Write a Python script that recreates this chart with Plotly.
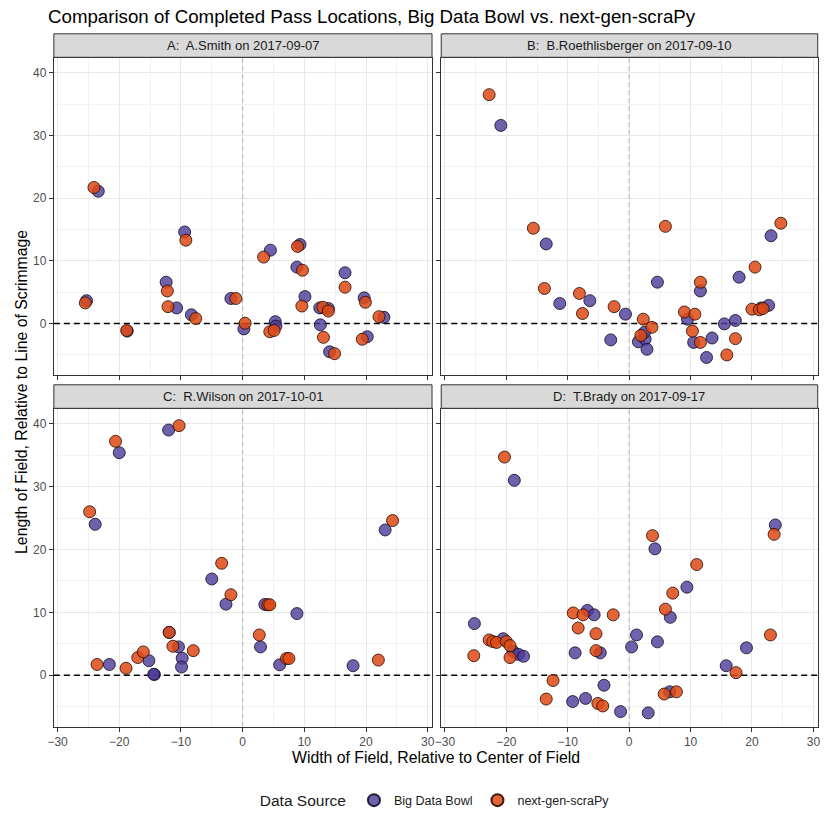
import plotly.graph_objects as go

# Panel labels
panel_titles = [
    "A:  A.Smith on 2017-09-07",
    "B:  B.Roethlisberger on 2017-09-10",
    "C:  R.Wilson on 2017-10-01",
    "D:  T.Brady on 2017-09-17",
]

# A: A.Smith
a_bdb_x = [-23.4, -9.4, -25.3, -18.7, -12.4, -10.7, -8.3, -1.9, 0.2, 4.5, 5.3, 5.4,
           9.3, 8.8, 10.1, 12.5, 13.9, 12.6, 14.1, 16.6, 19.7, 20.2, 22.9]
a_bdb_y = [21.1, 14.6, 3.65, -1.2, 6.6, 2.5, 1.4, 4.0, -0.85, 11.7, 0.3, -0.4,
           12.6, 9.0, 4.3, 2.5, 2.4, -0.2, -4.5, 8.1, 4.1, -2.1, 1.0]
a_ngs_x = [-24.1, -9.2, -25.5, -18.8, -12.2, -12.1, -7.6, -1.1, 0.4, 3.4, 4.4, 5.1,
           8.9, 9.7, 9.6, 13.0, 13.9, 13.1, 14.9, 16.6, 19.9, 19.4, 22.1]
a_ngs_y = [21.7, 13.3, 3.3, -1.1, 5.2, 2.7, 0.8, 4.0, 0.05, 10.6, -1.3, -1.1,
           12.3, 8.5, 2.8, 2.6, 2.0, -2.2, -4.8, 5.8, 3.4, -2.5, 1.1]

# B: B.Roethlisberger
b_bdb_x = [-20.9, -13.5, -11.3, -6.4, -0.6, -3.0, 1.5, 2.6, 2.5, 2.9, 4.6, 9.5,
           10.5, 11.6, 13.5, 12.6, 15.5, 17.3, 17.9, 22.7, 23.1, 21.5]
b_bdb_y = [31.6, 12.7, 3.2, 3.65, 1.5, -2.6, -2.9, -2.5, -1.4, -4.1, 6.6, 0.7,
           -3.0, 5.2, -2.3, -5.4, -0.05, 0.5, 7.4, 2.9, 14.0, 2.5]
b_ngs_x = [-22.8, -15.6, -13.8, -8.1, -7.6, -2.45, 2.3, 3.7, 1.9, 5.9, 9.0, 10.7,
           10.3, 11.6, 11.6, 15.9, 17.3, 20.5, 20.0, 21.2, 21.8, 24.7]
b_ngs_y = [36.5, 15.2, 5.6, 4.8, 1.6, 2.7, 0.7, -0.6, -1.9, 15.5, 1.85, 1.5,
           -1.2, -3.0, 6.6, -5.0, -2.4, 9.0, 2.3, 2.2, 2.4, 16.0]

# C: R.Wilson
c_bdb_x = [-12.0, -20.0, -23.9, -5.0, -2.7, 3.6, 8.8, 2.9, 6.0, 17.9, 23.1, -11.9,
           -10.4, -9.8, -9.9, -21.6, -15.2, -14.3, -14.4]
c_bdb_y = [39.0, 35.4, 24.0, 15.3, 11.3, 11.25, 9.8, 4.5, 1.65, 1.5, 23.1, 6.8,
           4.5, 2.7, 1.3, 1.7, 2.3, 0.1, 0.15]
c_ngs_x = [-10.3, -20.6, -24.8, -3.4, -1.9, 4.1, 4.4, 2.7, 7.1, 7.5, 22.0, 24.3,
           -11.9, -11.3, -8.0, -23.6, -18.9, -17.0, -16.1]
c_ngs_y = [39.7, 37.2, 26.0, 17.8, 12.8, 11.2, 11.2, 6.4, 2.65, 2.65, 2.4, 24.6,
           6.8, 4.6, 3.9, 1.7, 1.1, 2.8, 3.7]

# D: T.Brady
d_bdb_x = [-18.7, 23.8, 4.2, 9.4, 6.7, 1.2, 4.6, 0.4, 19.1, 15.8, 6.6, 3.1, -1.4,
           -4.1, -7.1, -9.2, -6.8, -5.7, -4.7, -8.8, -25.2, -20.5, -18.9, -18.0, -17.2]
d_bdb_y = [31.0, 23.9, 20.1, 14.0, 9.2, 6.4, 5.3, 4.5, 4.35, 1.5, -2.65, -6.0, -5.8,
           -1.6, -3.7, -4.2, 10.3, 9.6, 3.55, 3.55, 8.2, 5.8, 3.8, 3.3, 3.0]
d_ngs_x = [-20.3, 23.6, 3.8, 11.0, 7.1, 5.9, 23.0, 17.4, 5.7, 7.7, -5.1, -4.3, -13.5,
           -12.4, -9.1, -7.5, -2.6, -8.3, -5.4, -5.4, -25.3, -22.8, -22.2, -21.6,
           -20.0, -19.4, -19.4]
d_ngs_y = [34.7, 22.4, 22.2, 17.6, 13.05, 10.5, 6.4, 0.4, -3.0, -2.65, -4.5, -4.9, -3.8,
           -0.85, 9.9, 9.6, 9.6, 7.5, 6.6, 3.9, 3.1, 5.6, 5.35, 5.2, 5.35, 4.7, 2.8]

x_ticks = [-30, -20, -10, 0, 10, 20, 30]
x_tick_labels = ["\u221230", "\u221220", "\u221210", "0", "10", "20", "30"]
y_ticks = [0, 10, 20, 30, 40]

# axis limits shared by all panels
x_range = [-30.6, 30.7]
y_range = [-8.2, 42.3]

panels = [
    (a_bdb_x, a_bdb_y, a_ngs_x, a_ngs_y),
    (b_bdb_x, b_bdb_y, b_ngs_x, b_ngs_y),
    (c_bdb_x, c_bdb_y, c_ngs_x, c_ngs_y),
    (d_bdb_x, d_bdb_y, d_ngs_x, d_ngs_y),
]

purple = "rgba(75,58,150,0.8)"
orange = "rgba(222,74,20,0.85)"
font = "Liberation Sans, Arial, sans-serif"

# the page body has an 8px margin, so the figure is 814 wide and
# everything below is placed in window pixels, then shifted
OFF = 8
FW = 814


def px(p):
    return (p - OFF) / FW


def py(p):
    return 1 - (p - OFF) / FW


# pixel boxes of the panels (left, right, top, bottom)
cols = [(48.3, 430.7), (440.0, 820.7)]
rows = [(58.3, 375.0), (409.3, 726.7)]

fig = go.Figure()

for i, (bx, by, nx, ny) in enumerate(panels):
    suffix = "" if i == 0 else str(i + 1)
    axes = dict(xaxis="x" + suffix, yaxis="y" + suffix)
    # reference lines: centre of field and line of scrimmage (under the points)
    fig.add_trace(go.Scatter(
        x=[0, 0], y=y_range, mode="lines", showlegend=False, hoverinfo="skip",
        line=dict(color="#b3b3b3", width=1, dash="5px,3px"), **axes,
    ))
    fig.add_trace(go.Scatter(
        x=x_range, y=[0, 0], mode="lines", showlegend=False, hoverinfo="skip",
        line=dict(color="black", width=1.5, dash="6px,4px"), **axes,
    ))
    fig.add_trace(go.Scatter(
        x=bx, y=by, mode="markers", name="Big Data Bowl", legendgroup="bdb",
        showlegend=(i == 0), **axes,
        marker=dict(size=12, color=purple, line=dict(color="rgba(20,10,40,0.9)", width=0.9)),
    ))
    fig.add_trace(go.Scatter(
        x=nx, y=ny, mode="markers", name="next-gen-scraPy", legendgroup="ngs",
        showlegend=(i == 0), **axes,
        marker=dict(size=12, color=orange, line=dict(color="rgba(40,10,0,0.9)", width=0.9)),
    ))

layout = dict(
    width=FW, height=FW,
    margin=dict(l=0, r=0, t=0, b=0),
    plot_bgcolor="white", paper_bgcolor="white",
    font=dict(family=font, color="#1a1a1a"),
    title=dict(text="Comparison of Completed Pass Locations, Big Data Bowl vs. next-gen-scraPy",
               x=px(48), xanchor="left", y=py(9.5), yanchor="top",
               font=dict(size=18.7, color="black")),
    showlegend=True,
    legend=dict(orientation="h", x=px(435), xanchor="center", y=py(801), yanchor="middle",
                title=dict(text="Data Source", side="left", font=dict(size=15.5)),
                font=dict(size=12.5), itemsizing="constant"),
)

shapes = []
annotations = []
for i in range(4):
    r, c = divmod(i, 2)
    suffix = "" if i == 0 else str(i + 1)
    x0, x1 = cols[c]
    y0, y1 = rows[r]
    layout["xaxis" + suffix] = dict(
        domain=[px(x0), px(x1)], range=x_range, anchor="y" + suffix,
        tickvals=x_ticks, ticktext=x_tick_labels, showticklabels=(r == 1),
        ticks="outside", ticklen=4, tickcolor="#333333", tickwidth=1,
        tickfont=dict(size=12, color="#4d4d4d"),
        showgrid=True, gridcolor="#e8e8e8", gridwidth=1.1, zeroline=False,
        minor=dict(dtick=5, tick0=0, showgrid=True, gridcolor="#f2f2f2", gridwidth=0.6),
        showline=True, mirror=True, linecolor="#333333", linewidth=1,
    )
    layout["yaxis" + suffix] = dict(
        domain=[py(y1), py(y0)], range=y_range, anchor="x" + suffix,
        tickvals=y_ticks, showticklabels=(c == 0),
        ticks="outside", ticklen=4, tickcolor="#333333", tickwidth=1,
        tickfont=dict(size=12, color="#4d4d4d"),
        showgrid=True, gridcolor="#e8e8e8", gridwidth=1.1, zeroline=False,
        minor=dict(dtick=5, tick0=0, showgrid=True, gridcolor="#f2f2f2", gridwidth=0.6),
        showline=True, mirror=True, linecolor="#333333", linewidth=1,
    )

    # strip
    st = y0 - 24.5
    shapes.append(dict(type="rect", xref="paper", yref="paper",
                       x0=px(x0), x1=px(x1), y0=py(y0 - 1), y1=py(st),
                       fillcolor="#d9d9d9", line=dict(color="#333333", width=1)))
    annotations.append(dict(text=panel_titles[i].replace("  ", "\u00a0 "),
                            xref="paper", yref="paper",
                            x=px((x0 + x1) / 2), y=py((st + y0 - 1) / 2),
                            xanchor="center", yanchor="middle",
                            showarrow=False, font=dict(size=13, color="#1a1a1a")))

annotations.append(dict(text="Width of Field, Relative to Center of Field",
                        xref="paper", yref="paper", x=px(435), y=py(757),
                        xanchor="center", yanchor="middle",
                        showarrow=False, font=dict(size=15.8, color="black")))
annotations.append(dict(text="Length of Field, Relative to Line of Scrimmage",
                        xref="paper", yref="paper", x=px(15), y=py(392), textangle=-90,
                        xanchor="center", yanchor="middle",
                        showarrow=False, font=dict(size=15.8, color="black")))

layout["shapes"] = shapes
layout["annotations"] = annotations
fig.update_layout(**layout)

fig.write_html("out.html")
